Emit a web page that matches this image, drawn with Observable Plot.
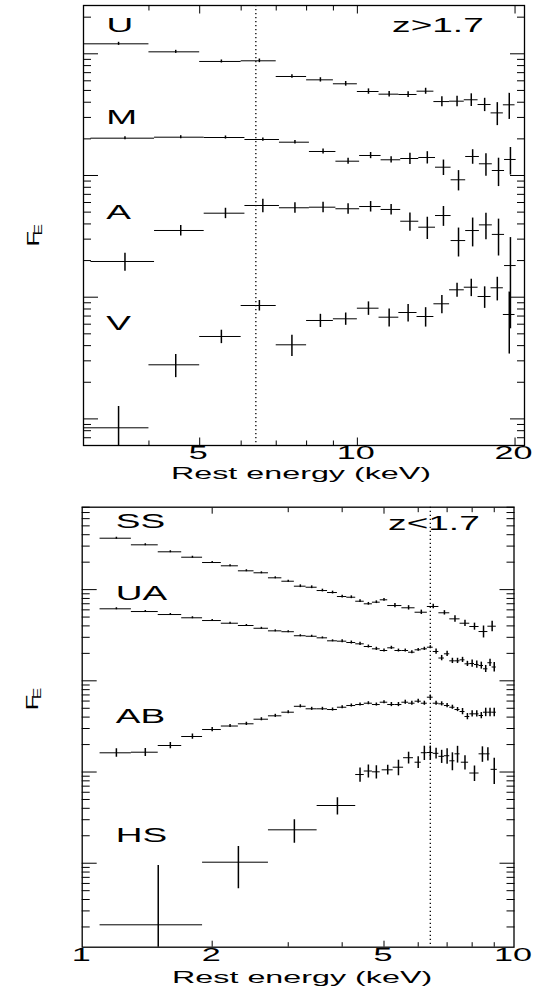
<!DOCTYPE html>
<html><head><meta charset="utf-8">
<script src="https://cdn.jsdelivr.net/npm/d3@7"></script>
<script src="https://cdn.jsdelivr.net/npm/@observablehq/plot@0.6"></script>
<style>
body{margin:0;background:#fff;}
#chart{width:533px;}
#chart svg{display:block;}
</style>
</head><body><div id="chart"></div>
<script>
// ---------------- top panel (z>1.7), rest energy in keV, F_E arbitrary log units
const eU = [3.5,4.5,5.5,6.5,7.5,8.5,9.5,10.5,11.5,12.5,13.5,14.5,15.5,16.5,17.5,18.5,19.5];
const fU = [1208,1038,865,876,651,611,567,490,466,463,493,405,408,419,383,327,381];
const dfU = [35,30,25,30,22,25,25,25,25,25,28,38,40,50,48,70,92];

const eM = [3.6,4.6,5.6,6.6,7.6,8.6,9.6,10.6,11.6,12.6,13.6,14.6,15.6,16.6,17.6,18.6,19.6];
const fM = [202.6,206.4,205.2,197.6,187.8,157.5,131.1,146.0,134.6,137.9,140.6,117.0,92.2,143.3,124.8,109.9,135.4];
const dfM = [6,6,6,6,6,7.5,7.6,8.5,7.8,14.5,16.3,17,17.5,19.6,26,28.8,34.5];

const eA = [3.6,4.6,5.6,6.6,7.6,8.6,9.6,10.6,11.6,12.6,13.6,14.6,15.6,16.6,17.6,18.6,19.6];
const fA = [19.65,35.33,49.0,56.7,54.3,54.9,53.3,55.6,52.6,42.1,37.6,46.9,29.2,35.3,39.3,32.8,18.2];
const dfA = [3.3,3.5,4.8,7.2,5.4,5.4,5.3,5.5,5.2,7.2,7.8,8.7,7.8,9.4,9.6,11,12.7];

const eV = [3.5,4.5,5.5,6.5,7.5,8.5,9.5,10.5,11.5,12.5,13.5,14.5,15.5,16.5,17.5,18.5,19.5];
const fV = [0.845,2.783,4.754,8.545,4.063,6.435,6.645,8.121,6.850,7.485,6.94,8.827,11.5,12.08,10.13,11.95,7.21];
const dfV = [0.42,0.60,0.60,0.85,0.80,0.80,0.77,1.03,1.16,1.22,1.26,1.50,1.51,1.97,2.04,2.63,3.8];

const topBinHalf = 0.5;
const topLabels = ["U","M","A","V","z>1.7"];
const topLabelE = [3.52,3.55,3.5,3.5,14.25];
const topLabelF = [1700,300,49.7,6.08,1690];
const topXTickLabels = [5,10,20];
const topXTicksMinor = [4,6,7,8,9];

// ---------------- bottom panel (z<1.7)
const eSS = [1.2,1.4,1.6,1.8,2.0,2.2,2.4,2.6,2.8,3.0,3.2,3.4,3.6,3.8,4.0,4.2,4.4,4.6,4.8,5.0,5.3,5.7,6.1,6.5,6.9,7.3,7.7,8.1,8.5,8.9];
const fSS = [3661,3099,2597,2266,1982,1824,1607,1529,1347,1236,1090,1062,977,929,840,825,746,699,728,773,669,632,565,653,557,478,428,394,347,397];
const dfSS = [92,77,65,57,50,46,40,38,34,31,38,37,34,33,29,29,26,24,25,27,37,35,31,36,31,38,34,35,52,52];
const deSS = [0.1,0.1,0.1,0.1,0.1,0.1,0.1,0.1,0.1,0.1,0.1,0.1,0.1,0.1,0.1,0.1,0.1,0.1,0.1,0.1,0.2,0.2,0.2,0.2,0.2,0.2,0.2,0.2,0.2,0.2];

const eUA = [1.2,1.4,1.6,1.8,2.0,2.2,2.4,2.6,2.8,3.0,3.2,3.4,3.6,3.8,4.0,4.2,4.4,4.6,4.8,5.0,5.2,5.4,5.6,5.8,6.0,6.2,6.4,6.6,6.8,7.0,7.2,7.4,7.6,7.8,8.0,8.2,8.4,8.6,8.8,9.0];
const fUA = [616,575,533,491,458,428,404,377,353,345.5,312,308,296,274.5,272,263,254.5,237.8,224.3,214.9,230.1,214.9,214.9,205.9,218.8,224.3,233.6,209.6,177.8,197.8,165.7,165.7,169.9,153.6,154.8,150.9,147.2,135.4,157.9,141.7];
const dfUA = [15,14,13,12,11,11,10,9,9,9,8,8,7,7,10,10,10,9,9,8,9,8,8,8,8,9,9,14,12,13,11,11,11,10,14,14,13,12,14,17];

const eAB = [1.2,1.4,1.6,1.8,2.0,2.2,2.4,2.6,2.8,3.0,3.2,3.4,3.6,3.8,4.0,4.2,4.4,4.6,4.8,5.0,5.2,5.4,5.6,5.8,6.0,6.2,6.4,6.6,6.8,7.0,7.2,7.4,7.6,7.8,8.0,8.2,8.4,8.6,8.8,9.0];
const fAB = [16.24,16.49,19.53,24.51,29.24,31.94,33.78,37.93,41.33,45.27,52.54,49.32,49.32,48.45,51.34,53.60,54.97,56.81,54.97,58.27,54.97,54.97,58.27,56.81,59.75,56.81,66.12,56.81,55.95,53.60,51.34,48.45,46.08,40.61,43.47,43.47,41.65,45.27,45.27,45.27];
const dfAB = [1.7,1.65,1.54,1.6,1.52,1.25,1.32,1.48,1.61,1.77,2.05,1.92,1.92,1.89,2.0,2.09,2.14,2.22,2.14,2.27,2.86,2.86,3.03,2.95,3.1,2.95,3.44,2.95,2.91,2.79,2.67,2.52,3.64,3.21,3.43,3.43,3.29,4.8,4.8,4.8];

const eHS = [1.5,2.3,3.1,3.9,4.4,4.6,4.8,5.1,5.4,5.7,6.0,6.2,6.4,6.6,6.8,7.0,7.2,7.4,7.7,8.1,8.45,8.7,9.0];
const fHS = [0.2112,1.026,2.324,4.293,9.388,10.26,10.05,10.57,11.29,14.35,12.81,16.28,16.36,16.03,14.86,15.09,13.27,15.83,12.81,9.75,15.83,15.83,10.70];
const dfHS = [0.733,0.50,0.667,0.92,1.67,1.68,1.65,1.27,2.18,2.14,1.91,2.9,2.9,2.15,2.44,2.91,2.97,3.3,2.28,1.88,3.06,2.6,3.42];
const deHS = [0.4,0.4,0.4,0.4,0.1,0.1,0.1,0.15,0.15,0.15,0.1,0.1,0.1,0.1,0.1,0.1,0.1,0.1,0.15,0.2,0.15,0.1,0.15];

const bottomBinHalf = 0.1;
const bottomLabels = ["SS","UA","AB","HS","z<1.7"];
const bottomLabelE = [1.365,1.372,1.365,1.372,6.525];
const bottomLabelF = [5483,899,39.9,2.01,5266];
const bottomXTickLabels = [1,2,5,10];
const bottomXTicksMajor = [2,5];
const bottomXTicksMinor = [3,4,6,7,8,9];

const ironLine = [6.4];
const xTitle = "Rest energy (keV)";

// ---------------- helpers
function rowsOf(series) {
  return series.flatMap(s => s.e.map((e, i) => ({
    e, f: s.f[i], df: s.df[i], de: Array.isArray(s.de) ? s.de[i] : s.de
  })));
}
function logTicks(lo, hi, majorOnly) {
  const t = [];
  for (let k = -2; k <= 4; k++) for (let n = 1; n <= 9; n++) {
    if (majorOnly && n !== 1) continue;
    if (!majorOnly && n === 1) continue;
    const v = +(n * Math.pow(10, k)).toPrecision(3);
    if (v >= lo && v <= hi) t.push(v);
  }
  return t;
}
const FONT = "Liberation Sans, Arial, Helvetica, sans-serif";

function panel(cfg) {
  const rows = rowsOf(cfg.series);
  const [ylo, yhi] = cfg.yDomain;
  const yMinor = logTicks(ylo, yhi, false), yMajor = logTicks(ylo, yhi, true);
  const tickOpts = {fill: "none", label: null, strokeWidth: 1};
  const labelRows = cfg.labels.map((t, i) => ({t, e: cfg.labelE[i], f: cfg.labelF[i]}));
  return Plot.plot({
    width: 533, height: cfg.height,
    marginTop: cfg.m[0], marginRight: cfg.m[1], marginBottom: cfg.m[2], marginLeft: cfg.m[3],
    x: {type: "log", domain: cfg.xDomain, axis: null},
    y: {type: "log", domain: cfg.yDomain, axis: null},
    style: {fontFamily: FONT, background: "white", color: "black"},
    marks: [
      Plot.ruleX(ironLine, {stroke: "black", strokeWidth: 1.3, strokeDasharray: "1.3,2.7"}),
      Plot.ruleY(rows, {y: "f", x1: d => d.e - d.de, x2: d => d.e + d.de, stroke: "black", strokeWidth: 1, clip: true}),
      Plot.ruleX(rows, {x: "e", y1: d => Math.max(d.f - d.df, ylo * 0.5), y2: d => d.f + d.df, stroke: "black", strokeWidth: 1.5, clip: true}),
      Plot.axisY(yMinor, {anchor: "left", tickSize: 8, insetLeft: 8, ...tickOpts}),
      Plot.axisY(yMajor, {anchor: "left", tickSize: 15, insetLeft: 15, ...tickOpts}),
      Plot.axisY(yMinor, {anchor: "right", tickSize: 8, insetRight: 8, ...tickOpts}),
      Plot.axisY(yMajor, {anchor: "right", tickSize: 15, insetRight: 15, ...tickOpts}),
      Plot.axisX(cfg.xMinor, {anchor: "bottom", tickSize: 4.5, insetBottom: 4.5, ...tickOpts}),
      Plot.axisX(cfg.xMajor, {anchor: "bottom", tickSize: cfg.majLen, insetBottom: cfg.majLen, ...tickOpts}),
      Plot.axisX(cfg.xMinor, {anchor: "top", tickSize: 4.5, insetTop: 4.5, ...tickOpts}),
      Plot.axisX(cfg.xMajor, {anchor: "top", tickSize: cfg.majLen, insetTop: cfg.majLen, ...tickOpts}),
      Plot.frame({stroke: "black", strokeWidth: 1.3}),
      Plot.text(cfg.xTickLabels, {x: d => d, text: d => String(d), frameAnchor: "bottom", dy: cfg.tickDy, dx: cfg.tickDx, fontSize: 18, fill: "black"}),
      Plot.text([xTitle], {text: d => d, frameAnchor: "bottom", dy: cfg.titleDy, dx: cfg.titleDx, fontSize: 17, fill: "black"}),
      Plot.text(labelRows, {x: "e", y: "f", text: "t", fontSize: 19.5, fill: "black"}),
      Plot.text(["F"], {text: d => d, frameAnchor: "left", rotate: -90, dx: -50, dy: cfg.fDy, fontSize: 17, fill: "black"}),
      Plot.text(["E"], {text: d => d, frameAnchor: "left", rotate: -90, dx: -45, dy: cfg.fDy - 11, fontSize: 11.5, fill: "black"})
    ]
  });
}

const topSvg = panel({
  height: 490, m: [5, 9, 45, 83],
  xDomain: [3.0, 20.85], yDomain: [0.6045, 2494],
  series: [
    {e: eU, f: fU, df: dfU, de: topBinHalf},
    {e: eM, f: fM, df: dfM, de: topBinHalf},
    {e: eA, f: fA, df: dfA, de: topBinHalf},
    {e: eV, f: fV, df: dfV, de: topBinHalf}
  ],
  labels: topLabels, labelE: topLabelE, labelF: topLabelF,
  xTickLabels: topXTickLabels, xMajor: topXTickLabels, xMinor: topXTicksMinor, majLen: 7.5,
  tickDy: 13.5, tickDx: -1.5, titleDy: 33, titleDx: -3, fDy: 21
});
const bottomSvg = panel({
  height: 507, m: [16.7, 19.5, 50.3, 81.7],
  xDomain: [1, 10], yDomain: [0.12, 8010],
  series: [
    {e: eSS, f: fSS, df: dfSS, de: deSS},
    {e: eUA, f: fUA, df: dfUA, de: bottomBinHalf},
    {e: eAB, f: fAB, df: dfAB, de: bottomBinHalf},
    {e: eHS, f: fHS, df: dfHS, de: deHS}
  ],
  labels: bottomLabels, labelE: bottomLabelE, labelF: bottomLabelF,
  xTickLabels: bottomXTickLabels, xMajor: bottomXTicksMajor, xMinor: bottomXTicksMinor, majLen: 6,
  tickDy: 13.8, tickDx: -1, titleDy: 35.5, titleDx: 4, fDy: -17
});

const chart = document.getElementById("chart");
chart.append(topSvg, bottomSvg);

// wide lettering like the original figure
for (const svg of [topSvg, bottomSvg]) {
  d3.select(svg).selectAll("text").each(function () {
    const t = this.getAttribute("transform");
    if (!t) return;
    const s = (this.textContent === "F" || this.textContent === "E") ? 1.5 : 1.9;
    this.setAttribute("transform", t + ` scale(${s},1)`);
  });
}
</script>
</body></html>
